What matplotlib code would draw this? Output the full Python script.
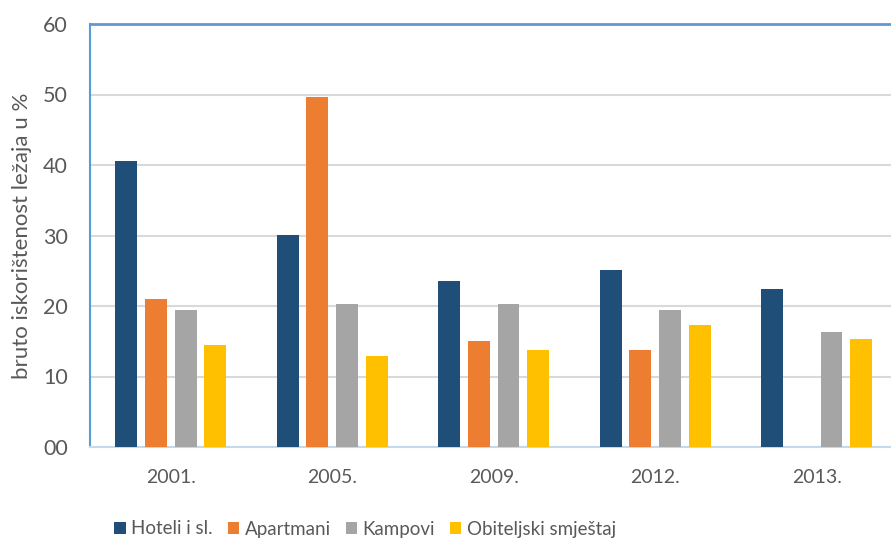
import matplotlib
matplotlib.use("Agg")
import matplotlib.pyplot as plt
import numpy as np

# podaci (očitano s grafikona)
godine = ["2001.", "2005.", "2009.", "2012.", "2013."]
hoteli = [40.6, 30.1, 23.5, 25.1, 22.4]
apartmani = [21.0, 49.6, 15.0, 13.8, 0.0]
kampovi = [19.4, 20.3, 20.3, 19.4, 16.3]
obiteljski = [14.5, 12.9, 13.8, 17.3, 15.3]

serije = [
    ("Hoteli i sl.", hoteli, "#1F4E79"),
    ("Apartmani", apartmani, "#ED7D31"),
    ("Kampovi", kampovi, "#A5A5A5"),
    ("Obiteljski smještaj", obiteljski, "#FFC000"),
]

plt.rcParams["font.family"] = ["Lato", "DejaVu Sans"]
tekst = "#595959"

fig = plt.figure(figsize=(8.91, 5.42), dpi=100)
ax = fig.add_axes([90 / 891, 1 - 447 / 542, 1 - 90 / 891, (447 - 24) / 542])

x = np.arange(len(godine))
sirina = 0.136
korak = 0.183
for i, (ime, vrijednosti, boja) in enumerate(serije):
    ax.bar(x + (i - 1.5) * korak, vrijednosti, sirina, color=boja, label=ime, zorder=3)

ax.set_ylim(0, 60)
ax.set_xlim(-0.5, 4.46)
ax.set_yticks(range(0, 61, 10))
ax.set_yticklabels([f"{v:02d}" for v in range(0, 61, 10)])
ax.set_xticks(x)
ax.set_xticklabels(godine)
ax.tick_params(axis="y", length=0, pad=16, labelsize=15.5, labelcolor=tekst)
ax.tick_params(axis="x", length=0, pad=16, labelsize=14, labelcolor=tekst)

ax.grid(axis="y", color="#D9D9D9", linewidth=1.5, zorder=0)
ax.set_axisbelow(True)

ax.spines["left"].set_color("#5B9BD5")
ax.spines["left"].set_linewidth(1.5)
ax.spines["top"].set_color("#5B9BD5")
ax.spines["top"].set_linewidth(2)
ax.spines["bottom"].set_color("#C5D9EC")
ax.spines["bottom"].set_linewidth(1.5)
ax.spines["right"].set_visible(False)

ax.set_ylabel("bruto iskorištenost ležaja u %", fontsize=16, color=tekst, labelpad=8)

fig.legend(loc="center", bbox_to_anchor=(0.41, 13 / 542), ncol=4, frameon=False,
           fontsize=13.5, labelcolor=tekst, handlelength=0.6, handleheight=0.6,
           handletextpad=0.3, columnspacing=0.8, borderpad=0)

fig.savefig("out.png", dpi=100)
